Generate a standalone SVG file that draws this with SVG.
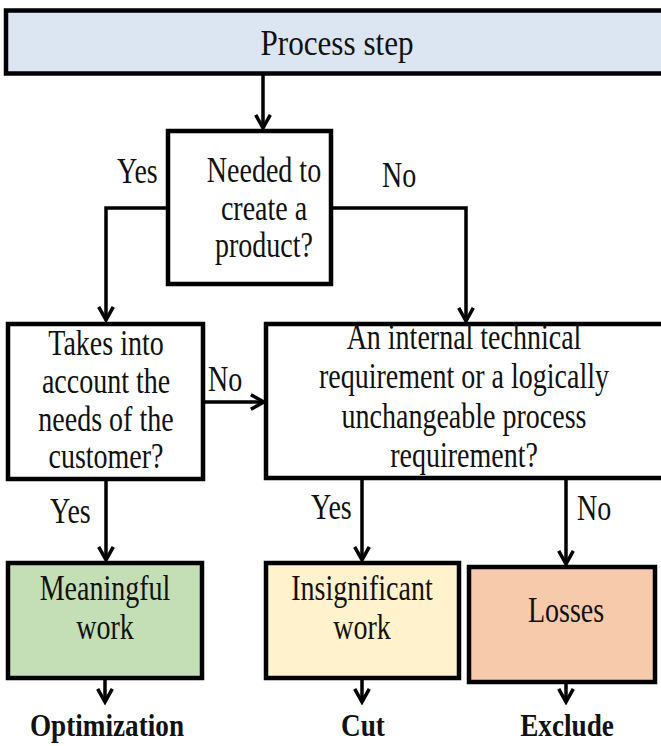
<svg xmlns="http://www.w3.org/2000/svg" width="661" height="746" viewBox="0 0 661 746">
<style>
.box{stroke:#000;stroke-width:4.5}
text{font-family:'Liberation Serif','Times New Roman',Times,serif;font-size:35px;fill:#111}
.t{text-anchor:middle}
.b{font-weight:bold;text-anchor:middle;font-size:32px}
.c{fill:none;stroke:#000;stroke-width:3.5;marker-end:url(#ah)}
</style>
<defs>
<marker id="ah" viewBox="0 0 12 12" refX="10" refY="6" markerWidth="5" markerHeight="5" orient="auto" markerUnits="strokeWidth">
<path d="M1,1 L10,6 L1,11" fill="none" stroke="#000" stroke-width="2.4"/>
</marker>
</defs>
<g id="process-step">
<rect class="box" x="6" y="10.5" width="660" height="63" fill="#dce6f2"/>
<text class="t" transform="translate(337 0) scale(.89 1)" y="55">Process step</text>
</g>
<g id="needed">
<rect class="box" x="168" y="131" width="163" height="153" fill="#fff"/>
<g transform="translate(264 0) scale(.8 1)">
<text class="t" y="182">Needed to</text>
<text class="t" y="220">create a</text>
<text class="t" y="257">product?</text>
</g>
</g>
<g id="customer">
<rect class="box" x="8" y="324" width="195" height="155" fill="#fff"/>
<g transform="translate(106 0) scale(.8 1)">
<text class="t" y="355">Takes into</text>
<text class="t" y="393">account the</text>
<text class="t" y="431">needs of the</text>
<text class="t" y="468">customer?</text>
</g>
</g>
<g id="internal">
<rect class="box" x="266" y="324" width="400" height="154" fill="#fff"/>
<g transform="translate(464 0) scale(.8 1)">
<text class="t" y="349">An internal technical</text>
<text class="t" y="388">requirement or a logically</text>
<text class="t" y="428">unchangeable process</text>
<text class="t" y="467">requirement?</text>
</g>
</g>
<g id="meaningful">
<rect class="box" x="8" y="563" width="194" height="115" fill="#c4dfb5"/>
<g transform="translate(105 0) scale(.8 1)">
<text class="t" y="600">Meaningful</text>
<text class="t" y="639">work</text>
</g>
</g>
<g id="insignificant">
<rect class="box" x="266" y="563" width="193" height="115" fill="#fff2cc"/>
<g transform="translate(362 0) scale(.8 1)">
<text class="t" y="600">Insignificant</text>
<text class="t" y="639">work</text>
</g>
</g>
<g id="losses">
<rect class="box" x="469" y="567" width="186" height="115" fill="#f7caac"/>
<text class="t" transform="translate(566 0) scale(.8 1)" y="622">Losses</text>
</g>
<g id="outcomes">
<text class="b" transform="translate(107 0) scale(.85 1)" y="736">Optimization</text>
<text class="b" transform="translate(363 0) scale(.85 1)" y="736">Cut</text>
<text class="b" transform="translate(567 0) scale(.85 1)" y="736">Exclude</text>
</g>
<g id="connectors">
<path class="c" d="M263,74 V128"/>
<path class="c" d="M168,208 H106 V320"/>
<path class="c" d="M331,208 H466 V321"/>
<path class="c" d="M203,402 H264"/>
<path class="c" d="M106,479 V560"/>
<path class="c" d="M362,478 V560"/>
<path class="c" d="M566,478 V564"/>
<path class="c" d="M105,678 V702"/>
<path class="c" d="M362,678 V702"/>
<path class="c" d="M566,682 V702"/>
</g>
<g id="labels">
<text transform="translate(117 0) scale(.8 1)" y="183">Yes</text>
<text transform="translate(382 0) scale(.8 1)" y="187">No</text>
<text transform="translate(208 0) scale(.8 1)" y="391">No</text>
<text transform="translate(50 0) scale(.8 1)" y="523">Yes</text>
<text transform="translate(311 0) scale(.8 1)" y="519">Yes</text>
<text transform="translate(577 0) scale(.8 1)" y="520">No</text>
</g>
</svg>
